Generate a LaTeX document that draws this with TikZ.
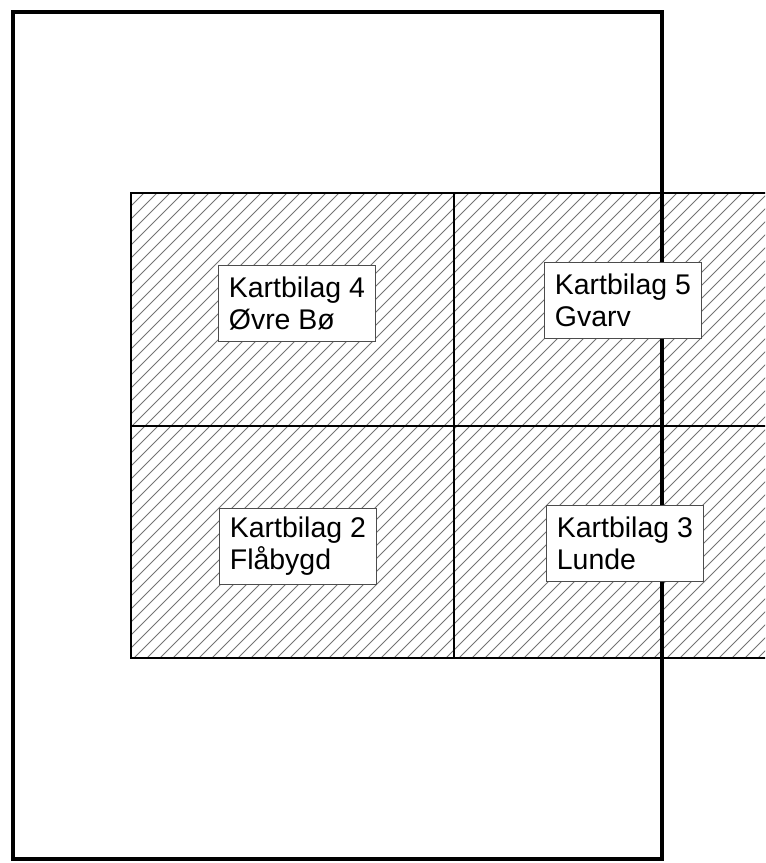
\documentclass[tikz,border=0pt]{standalone}
\usepackage{fontspec}
\setmainfont{Liberation Sans}

\begin{document}
\begin{tikzpicture}[x=0.02cm, y=-0.02cm, every node/.style={rectangle, draw=black!70, fill=white, line width=0.5pt, anchor=north west, align=left, minimum width=3.14cm, minimum height=1.52cm, inner sep=0pt, font=\fontsize{16.2}{18.2}\selectfont}]
        \useasboundingbox (0,0) rectangle (765,863);
        \clip (0,0) rectangle (765,863);
        % hatched map sheets
        \begin{scope}
            \clip (131,193) rectangle (800,658);
            \foreach \x in {-334,-321,...,800}
                \draw[black!55, line width=0.55pt] (\x,658) -- ++(465,-465);
        \end{scope}
        \draw[line width=0.9pt] (131,193) rectangle (800,658);
        \draw[line width=0.9pt] (454,193) -- (454,658);
        \draw[line width=0.9pt] (131,426) -- (800,426);
        
        % frame
        \draw[line width=1.9pt] (13,12) rectangle (662,859);
        
        \node (K4) at (218,265) {Kartbilag 4\\Øvre Bø};
        \node (K5) at (544,262) {Kartbilag 5\\Gvarv};
        \node (K2) at (219,508) {Kartbilag 2\\Flåbygd};
        \node (K3) at (546,505) {Kartbilag 3\\Lunde};
    \end{tikzpicture}
\end{document}
